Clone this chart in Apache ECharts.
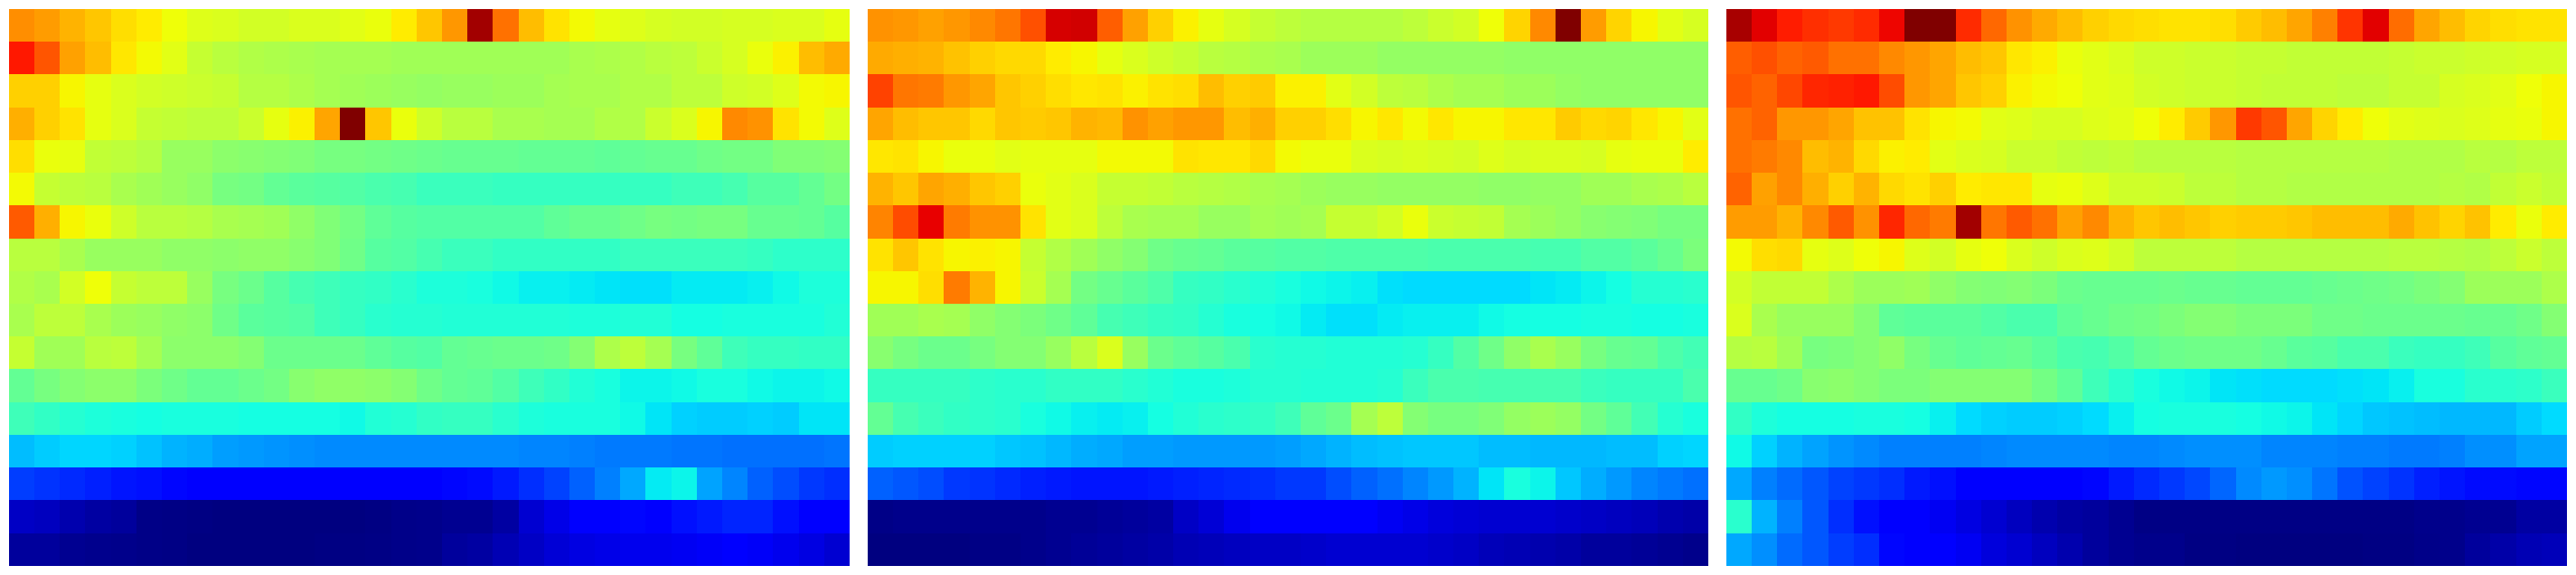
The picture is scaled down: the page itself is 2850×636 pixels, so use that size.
<!DOCTYPE html>
<html>
<head>
<meta charset="utf-8">
<style>html,body{margin:0;padding:0;background:#fff}#c{width:2850px;height:636px}</style>
<script src="https://cdn.jsdelivr.net/npm/echarts@6/dist/echarts.min.js"></script>
</head>
<body>
<div id="c"></div>
<script>
const columns = Array.from({length:33},(_, i)=>String(i));
const rows = Array.from({length:17},(_, i)=>String(i));

const panelLeft = [
[76,74.5,72,70,67.5,66,64,62,61.5,60.5,60.5,61.5,61.5,62.5,63.5,66,70,75,97,79,71,67,64.5,63,62,61,60.5,60.5,61,61,61.5,61.5,63],
[88.5,82,74,71,66.5,64.5,62.5,59,57.5,56.5,56,55.5,55,55,55,54.5,54.5,54.5,54.5,54.5,54.5,54.5,55.5,56,56.5,57.5,58,59.5,61,63.5,65.5,71,73],
[69,69,65,63,61.5,60.5,60,59.5,59,57,57,56,55,54.5,54,53.5,53,53.5,53.5,54,54,55,55.5,55.5,56.5,56.5,58,58,60,60.5,62,64.5,65],
[72.5,69,67,63,61.5,59,58.5,58,58,59.5,63,65.5,73.5,100,70,63.5,60,57.5,57.5,55.5,55.5,55,55,56.5,56.5,59.5,61.5,65,76.5,75.5,67,64.5,62],
[67.5,63.5,63,58.5,58,57,53.5,53.5,52,51.5,51,50.5,49.5,49.5,49,48.5,48,47.5,47.5,47.5,47,47,47,46.5,47,47.5,47.5,48.5,49,49,50.5,50.5,51],
[64.5,59,58,57.5,55.5,54.5,53.5,52.5,49.5,49,47,46,45.5,45,44,43.5,42,42,42,41.5,41.5,41.5,41.5,41.5,41.5,41.5,42.5,42.5,43.5,45.5,45.5,47,49],
[81.5,72.5,65,63.5,60,57.5,57.5,57,55.5,55,54.5,52.5,50.5,49,46.5,45.5,45,45,45,45,45,46.5,47.5,47.5,48.5,49.5,49,49.5,49.5,47.5,47.5,47,45.5],
[57.5,57.5,55.5,53.5,53.5,53.5,52.5,52.5,52,52.5,52.5,51.5,50.5,48.5,45.5,45,43.5,42,42,41,41,41,41,41,42,42,42,42,42,41.5,40.5,40.5,40.5],
[56.5,55.5,60.5,64,59,58,58,53.5,49.5,48,45.5,43.5,42.5,41.5,41,40,38.5,38.5,38,37,36,36,35.5,35,34.5,34.5,35.5,35.5,35.5,36,37,38.5,38.5],
[55.5,58,58,55.5,54,53.5,52.5,52,48.5,46,45.5,45,42.5,41.5,40,39.5,39.5,39,39,39,39,39,38.5,38.5,39,39,37.5,37.5,38,38,38,38,39],
[59,54.5,54.5,57.5,58,55,52,52,52,51,48,48,48,48,46.5,45.5,45,47,47.5,48,48,48.5,51,56,58,55,49.5,46.5,42.5,41.5,41.5,41,41],
[47,49.5,51,52,52,50,48.5,47,47,48,49,51.5,52.5,52.5,52,51,48.5,47,46.5,45,42.5,41,39,38,36.5,36.5,37,38,38,37,36.5,36.5,37],
[42.5,41,39.5,38.5,38,37.5,38,38,38,37.5,37.5,37.5,37.5,37,39,39.5,41,41.5,41.5,40,38.5,38,38,38,37,35,33,32.5,32.5,33,32.5,35,35],
[31,32.5,33.5,33.5,33,31.5,30,29.5,28,27.5,27,26.5,26,26,26,26,26,26,26,26,25.5,25.5,25,24.5,24.5,24.5,24,24,23.5,23.5,23.5,23.5,24],
[18.5,17.5,16.5,15.5,14.5,14,13,12,12,12,12,12,12,12,12,11.5,11.5,13,13.5,15,17,19,22,25,29,35.5,36.5,28.5,25.5,22,20,18,17],
[6,5.5,4,3,2.5,0.7,0.5,0.3,0,0,0,0,0,0,0.3,0.8,1,1.5,1.5,3,7,9,11,12,13,12,14,15,16,16,14,12.5,11.5],
[2.5,2.5,1.5,1.2,1,0.7,0.5,0,0,0,0,0,0.3,0.3,0.5,0.8,1,2.5,3,4.5,6,7.5,8.5,9,9.5,9.5,10,10.5,11,10.5,9.5,8.5,7]
];

const panelMiddle = [
[75.5,75,74,75,76.5,78.5,82.5,92.5,93,81,74,69,65.5,63,61,59,58,57,57,57,57,58,59.5,60.5,64,68.5,76.5,100,74.5,68.5,65,62.5,61],
[73,72.5,72,70.5,69,68,68,66,65,63,61.5,60,59,57.5,57,56,55.5,54,54,54,53,53,53,53,53,52.5,52.5,52.5,52.5,52.5,52.5,52.5,52.5],
[84,78.5,78,75,73.5,70,69,67.5,66.5,67,65.5,67,67.5,71,69,69.5,65.5,65.5,62.5,60.5,58,57.5,56,55,55,54,54,53,52.5,52.5,52.5,52.5,52.5],
[73.5,71,70,70,68,70,69.5,70,72,71.5,75.5,74,75,75,71,72.5,69,69,67.5,65,66.5,64.5,66.5,65,65,66.5,66.5,69.5,68,68.5,66.5,65,62.5],
[66.5,67,65,63.5,63.5,62.5,63,63,63,64.5,64.5,64.5,67,66.5,66.5,68,64.5,63.5,63.5,61.5,61,61.5,61,60.5,62,61,61.5,61.5,61,63,63.5,63.5,66],
[72,70,73.5,72.5,70,69,63.5,62.5,61.5,59,59,58.5,57.5,57,56.5,55.5,55,54,53.5,53.5,53,53,53,53,52.5,52.5,53,53,54.5,54.5,55.5,56,57.5],
[77,83,91,78,75.5,75.5,67,62.5,61.5,58,55.5,55,55,53.5,53.5,55,54.5,55,59,59,60.5,63.5,59.5,59,58.5,55,54,53,51.5,51,50.5,49.5,49.5],
[67,70,67,65,65.5,65,59,56.5,54.5,52.5,51,48.5,47.5,47,46,45.5,45,45,44.5,44.5,44.5,44.5,44,44,44,44,43.5,43.5,45,45,46,47.5,50],
[65,65,67.5,78,72,65,59.5,55,49,47.5,46,44.5,41.5,41,40,39,38,37,36.5,36,34.5,34,34,34,34,34,35,35.5,36.5,37.5,39.5,39.5,40],
[54.5,54.5,55.5,55,52.5,51,50,48.5,46.5,43.5,42.5,41.5,41,39.5,38,37.5,37,35.5,34.5,34.5,35.5,36,36,36,37,37.5,37.5,37.5,38,38,37.5,37.5,38],
[51.5,49.5,48,48,49.5,51,51,53.5,57.5,61.5,53.5,48,46.5,45.5,44,40,39.5,39.5,39,39,39,39.5,41.5,45,48.5,52.5,55.5,53.5,49.5,47.5,47,44.5,43],
[41.5,41.5,41.5,41.5,40.5,40,40,41,41,41,40,39,38,38,38.5,39.5,39.5,39,39,39,39.5,42,44,44,43.5,43.5,43.5,43.5,42,41.5,41.5,41.5,44],
[47,43.5,42,41,40.5,40,38,37,36,35.5,36,37.5,39,40,40.5,41,42.5,46.5,48,55,58,51,49.5,49.5,50.5,53,54,53,49,46.5,43,39.5,38],
[32.5,33,33,33,33,32,31.5,30.5,29.5,29,28,28,27.5,27.5,27.5,27.5,28,29,30,31,31.5,32,32,32,31,31,30.5,30.5,30.5,31,31,33,33.5],
[22,21,20,18,17.5,16.5,15.5,15,14.5,14.5,14.5,15,15.5,16,16.5,17,18,18,20,22,23.5,25.5,27.5,30,35,38,36.5,32,29.5,27.5,25.5,24.5,23.5],
[0.7,1,1,1,1,1,1,1.5,1.5,2,2.5,3,6,7.5,9.5,12,12,12,12,11,10,9,8,7.5,7,7,7,6.5,6,5.5,5,4,3.5],
[0,0,0,0,0.5,0.5,1,1.5,2,2.5,3,3.5,4.5,5,5.5,6,6,6.5,7,7,7,7,6.5,6,5,4.5,4,3.5,2.5,2.5,2,1.5,1]
];

const panelRight = [
[96.5,91.5,88,86,85,86.5,90.5,100,100,86.5,80,75.5,73,71,69,68,67.5,67,67,67.5,69.5,71,73.5,77.5,85.5,91.5,79.5,73.5,71,68.5,67.5,67,67],
[81,82.5,80.5,81.5,79,79,76.5,75,73.5,71,70,66.5,65.5,63.5,62.5,61.5,60,60,59.5,59.5,59,59,58.5,58.5,58.5,58.5,59,59.5,59.5,60,60.5,61,61],
[82,80.5,83.5,87,87.5,88.5,83,75,73.5,70,69,65.5,64.5,64,62.5,62,60.5,60,59.5,59.5,59,58.5,58.5,58.5,58,58,59,59,61,61.5,62.5,64,65],
[79,80.5,75,75,73.5,70.5,70.5,67,65,64.5,62.5,62,61,61,62,62.5,64,66,69.5,75,85,82,73.5,68.5,66,64,62.5,62,61.5,62,63,63.5,65],
[79,78,76.5,71,72,68,65.5,66,62.5,61.5,61,59.5,59.5,58.5,58,58.5,57.5,57.5,57.5,57.5,57,57,57,57,57,57,56.5,56.5,56.5,57.5,57,58,58],
[80.5,74,76.5,72.5,69,72,68,67,69,66,66.5,66.5,63,63.5,62,60,60,59.5,58,58,57,57,56.5,56.5,56.5,56.5,56.5,56.5,57,56.5,58.5,59.5,58.5],
[74.5,74.5,72,76.5,81.5,75.5,87,80,78,97,78.5,81.5,79,74,76.5,72,70,71,70,69,69.5,69.5,70,71,71,71,73,70.5,68.5,70.5,66,63.5,66],
[64.5,67.5,68,63,62,64,65,62,60.5,63,64,61.5,60,61.5,62,60.5,58,58,58,58,57,57,57,57,57,57,57.5,57.5,57,56.5,58,59.5,58],
[60.5,58.5,58.5,58.5,56,54,54,54.5,52.5,51,50.5,51,50,48,47.5,47.5,47.5,48,47.5,47.5,47,47,47,47.5,48,48.5,49,50,51,54,54,54,56],
[61.5,55.5,53.5,53.5,53.5,51,46.5,46,46,46,45,44,44,46.5,47.5,48.5,49,50,51,51,50,50,50,48.5,48.5,48,48,48,48,47.5,47.5,48.5,51],
[57,57.5,54.5,49.5,50,51,52.5,49.5,47.5,46.5,47,47.5,46,44,43.5,45,47,48,48.5,48.5,48.5,47.5,46,45.5,44,44,42,41.5,41.5,42.5,45.5,46.5,47],
[47.5,47.5,48.5,51.5,52,51,50,50,51,51,51,51,49,46.5,42.5,40,38,37,36.5,35,34.5,34,34,34,34.5,35,36,38,38,40,40,40.5,42],
[41,38.5,37.5,37.5,37.5,38,38,37.5,36,34,33,32.5,32.5,33,34,36,37.5,38,38,38,37.5,37,36.5,35,33.5,32,31.5,31,30.5,30.5,30.5,32.5,34],
[37,33,30,28.5,27,26,25,25,25,25,25.5,26,26,26,26,25.5,25.5,26,26.5,26.5,26.5,25.5,25.5,25.5,25,25,24.5,24.5,25,26.5,26.5,28.5,28.5],
[29,25,23,21,19,18,17,15,14,12.5,12,12,12,12.5,13,15,16.5,18,19.5,22.5,26,27.5,26.5,24,20.5,19,17.5,15.5,14.5,13.5,13.5,13,13],
[40,30,25,21,17,14,12,12,10,8.5,7,5.5,4,3,2.5,1.5,0.5,0.5,0.5,0.5,0.5,0.5,0.5,0.5,0.5,0.5,0.5,1,1,1.5,1.5,3,3],
[29,26.5,23,21,18.5,17,13,12,12,10,8,7,5.5,4,2.5,1.5,1,1,0.3,0.3,0,0,0,0,0,0.3,0.3,0.8,1,2.5,3.5,4.5,5]
];

function seg(t, pts){
  for(let i=1;i<pts.length;i++){
    if(t<=pts[i][0]){
      const a=pts[i-1], b=pts[i];
      return a[1]+(b[1]-a[1])*(t-a[0])/(b[0]-a[0]);
    }
  }
  return pts[pts.length-1][1];
}
const R=[[0,0],[0.35,0],[0.66,1],[0.89,1],[1,0.5]];
const G=[[0,0],[0.125,0],[0.375,1],[0.64,1],[0.91,0],[1,0]];
const B=[[0,0.5],[0.11,1],[0.34,1],[0.65,0],[1,0]];
const jetColors=[];
for(let i=0;i<=200;i++){
  const t=i/200;
  const c=[R,G,B].map(p=>Math.round(seg(t,p)*255));
  jetColors.push('rgb('+c.join(',')+')');
}

function renderCell(params, api){
  const c=api.coord([api.value(0),api.value(1)]);
  const s=api.size([1,1]);
  const w=Math.abs(s[0]), h=Math.abs(s[1]);
  const x0=Math.round(c[0]-w/2-0.1), x1=Math.round(c[0]+w/2-0.1);
  const y0=Math.round(c[1]-h/2-0.1), y1=Math.round(c[1]+h/2-0.1);
  return {type:'rect',shape:{x:x0,y:y0,width:x1-x0,height:y1-y0},style:{fill:api.visual('color')}};
}

const panels=[panelLeft,panelMiddle,panelRight];
const lefts=[10,960,1910];
const grid=[],xAxis=[],yAxis=[],series=[];
panels.forEach((p,k)=>{
  grid.push({left:lefts[k],top:10,width:930,height:616,show:false});
  xAxis.push({type:'category',gridIndex:k,data:columns,show:false});
  yAxis.push({type:'category',gridIndex:k,data:rows,show:false,inverse:true});
  const d=[];
  p.forEach((row,y)=>row.forEach((v,x)=>d.push([x,y,v])));
  series.push({type:'custom',xAxisIndex:k,yAxisIndex:k,data:d,renderItem:renderCell,
    encode:{x:0,y:1},clip:false,silent:true,progressive:0,animation:false});
});
const chart=echarts.init(document.getElementById('c'),null,{renderer:'canvas',width:2850,height:636});
chart.setOption({
  animation:false,backgroundColor:'#fff',tooltip:{show:false},
  grid,xAxis,yAxis,series,
  visualMap:{type:'continuous',show:false,min:0,max:100,seriesIndex:[0,1,2],dimension:2,inRange:{color:jetColors}}
});
</script>
</body>
</html>
